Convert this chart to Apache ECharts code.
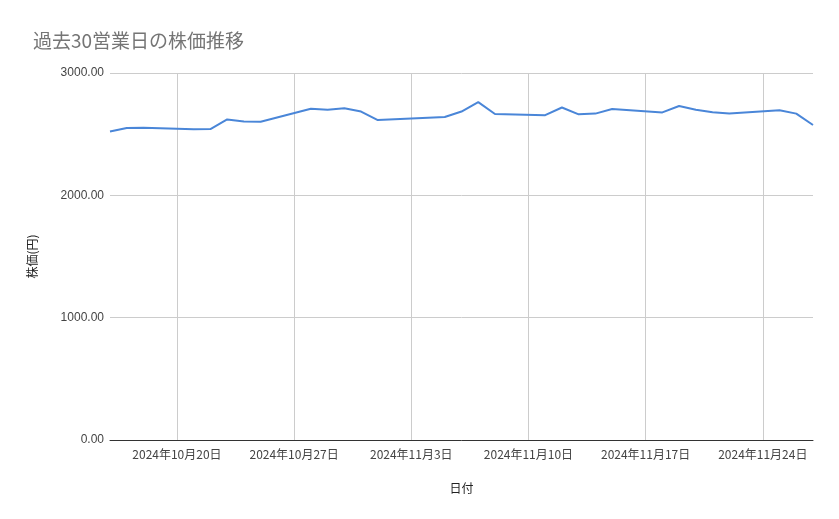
<!DOCTYPE html>
<html lang="ja">
<head>
<meta charset="UTF-8">
<title>株価推移</title>
<style>
  html, body { margin: 0; padding: 0; background: #fff; }
  #chart { width: 839px; height: 519px; }
</style>
</head>
<body>
<div id="chart"></div>
<script src="https://cdn.jsdelivr.net/npm/echarts@6/dist/echarts.min.js"></script>
<script>
// 営業日と終値
var dates = ['2024-10-16','2024-10-17','2024-10-18','2024-10-21','2024-10-22','2024-10-23','2024-10-24','2024-10-25',
  '2024-10-28','2024-10-29','2024-10-30','2024-10-31','2024-11-01','2024-11-05','2024-11-06','2024-11-07','2024-11-08',
  '2024-11-11','2024-11-12','2024-11-13','2024-11-14','2024-11-15','2024-11-18','2024-11-19','2024-11-20','2024-11-21',
  '2024-11-22','2024-11-25','2024-11-26','2024-11-27'];
var prices = [2522, 2550, 2552, 2540, 2542, 2620, 2603, 2602,
  2708, 2700, 2712, 2685, 2615, 2640, 2685, 2762, 2665,
  2655, 2718, 2662, 2668, 2705, 2678, 2730, 2700, 2680,
  2668, 2695, 2668, 2575];
var tickDates = ['2024-10-20','2024-10-27','2024-11-03','2024-11-10','2024-11-17','2024-11-24'];
var yTicks = [0, 1000, 2000, 3000];

var DAY = 86400000;
var base = Date.UTC(2024, 9, 16);
function dayOf(s) {
  var p = s.split('-');
  return Math.round((Date.UTC(+p[0], +p[1] - 1, +p[2]) - base) / DAY);
}
var seriesData = dates.map(function (d, i) { return [dayOf(d), prices[i]]; });
var tickVals = tickDates.map(dayOf);

var chart = echarts.init(document.getElementById('chart'));
chart.setOption({
  animation: false,
  title: {
    text: '過去30営業日の株価推移',
    left: 28, top: 26,
    textStyle: { fontSize: 19, color: '#757575', fontWeight: 'normal', fontFamily: 'Noto Sans CJK JP' }
  },
  grid: { left: 110, right: 26, top: 73, bottom: 79 },
  xAxis: {
    type: 'value',
    min: 0, max: dayOf('2024-11-27'),
    name: '日付', nameLocation: 'middle', nameGap: 42,
    nameTextStyle: { fontSize: 12, color: '#222', fontFamily: 'Noto Sans CJK JP' },
    axisLine: { show: true, lineStyle: { color: '#333' } },
    axisTick: { show: false, customValues: tickVals },
    axisLabel: {
      customValues: tickVals,
      color: '#444', fontSize: 12, margin: 8, fontFamily: 'Noto Sans CJK JP',
      formatter: function (v) {
        var d = new Date(base + v * DAY);
        return d.getUTCFullYear() + '年' + (d.getUTCMonth() + 1) + '月' + d.getUTCDate() + '日';
      }
    },
    splitLine: { show: true, lineStyle: { color: '#ccc' } }
  },
  yAxis: {
    type: 'value',
    min: 0, max: 3000, interval: 1000,
    name: '株価(円)', nameLocation: 'middle', nameGap: 72, nameRotate: 90,
    nameTextStyle: { fontSize: 12, color: '#222', fontFamily: 'Noto Sans CJK JP' },
    axisLine: { show: false },
    axisTick: { show: false },
    axisLabel: { color: '#444', fontSize: 12, margin: 6, formatter: function (v) { return v.toFixed(2); } },
    splitLine: { lineStyle: { color: '#ccc' } }
  },
  series: [{
    type: 'line',
    data: seriesData,
    showSymbol: false,
    lineStyle: { color: '#4a86d8', width: 2 }
  }]
});
</script>
</body>
</html>
